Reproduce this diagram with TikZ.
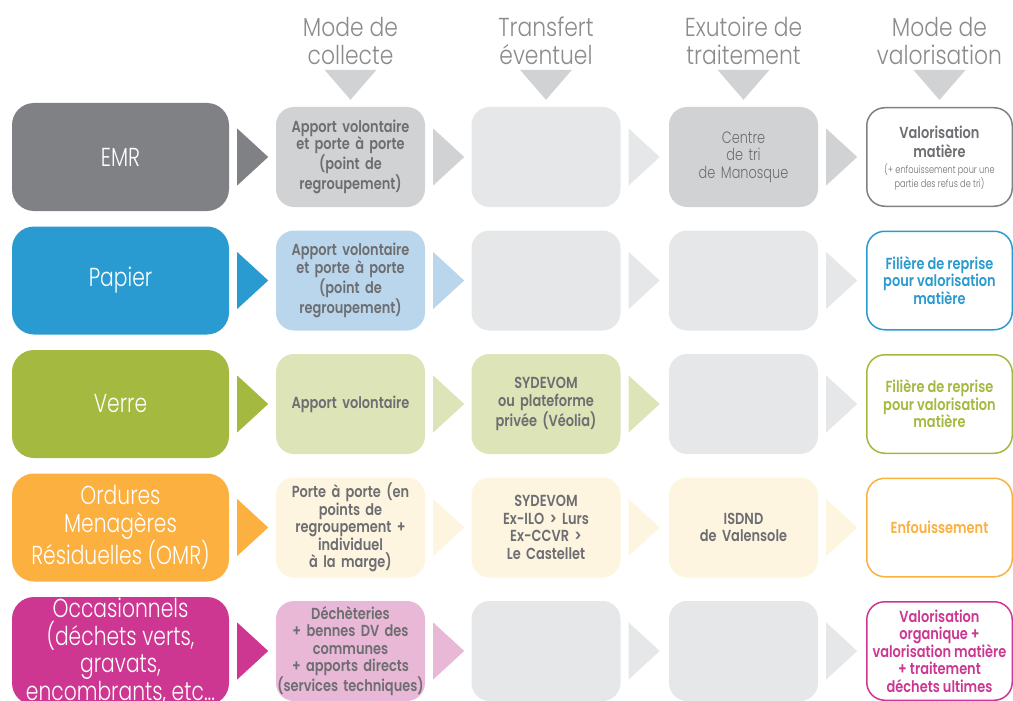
\documentclass[tikz,border=0pt]{standalone}
\usepackage{fontspec}
\setmainfont{Poppins}[FakeStretch=0.81,BoldFont={* SemiBold}]
\newfontfamily\lightfont{Poppins Light}[FakeStretch=0.78]
\newfontfamily\titlefont{Poppins Light}[FakeStretch=0.84]
\usetikzlibrary{calc}

\definecolor{grisfonce}{HTML}{808184}
\definecolor{grismoyen}{HTML}{D1D2D4}
\definecolor{grisclair}{HTML}{E6E7E8}
\definecolor{textegris}{HTML}{6D6E71}
\definecolor{titregris}{HTML}{8A8B8D}
\definecolor{bleu}{HTML}{2A9BD0}
\definecolor{bleuclair}{HTML}{BAD6EC}
\definecolor{vert}{HTML}{A4B93F}
\definecolor{vertclair}{HTML}{DDE4B8}
\definecolor{orange}{HTML}{FBB040}
\definecolor{creme}{HTML}{FEF5E1}
\definecolor{magenta}{HTML}{CD3791}
\definecolor{rose}{HTML}{E9B8D7}

\tikzset{
  every node/.style={inner sep=0pt, align=center},
  flux/.style={fill=#1, rounded corners=22pt, minimum width=217pt,
    minimum height=108pt, text=white, font=\lightfont\fontsize{26}{27.5}\selectfont},
  etape/.style={fill=#1, rounded corners=18pt, minimum width=149pt,
    minimum height=100pt, text width=149pt, text=textegris,
    font=\bfseries\fontsize{16}{17.5}\selectfont},
  valo/.style={draw=#1, fill=white, line width=1.5pt, rounded corners=18pt,
    minimum width=145.5pt, minimum height=98.5pt, text=#1,
    font=\bfseries\fontsize{16}{17.5}\selectfont},
  titre/.style={text=titregris, font=\titlefont\fontsize{26}{28}\selectfont},
  note/.style={text=textegris, font=\lightfont\fontsize{10.5}{12.5}\selectfont},
}
% triangle to the right of a box
\newcommand{\fleche}[2]{\fill[#2] ($(#1.east)+(8,-28.5)$) -- ++(31,28.5) -- ++(-31,28.5) -- cycle;}
% triangle under a column title
\newcommand{\pointe}[1]{\fill[grismoyen] ($(#1.north)+(-26,-37)$) -- ++(52,0) -- ++(-26,30) -- cycle;}

\begin{document}
\begin{tikzpicture}[x=1pt,y=-1pt]
\useasboundingbox (0,0) rectangle (1013,701);
\clip (0,0) rectangle (1013,701);

% column titles
\node[titre] (h-c) at (350.5,41) {Mode de\\collecte};
\node[titre] (h-t) at (546,41) {Transfert\\éventuel};
\node[titre] (h-x) at (743.5,41) {Exutoire de\\traitement};
\node[titre] (h-v) at (939.5,41) {Mode de\\valorisation};

% EMR
\node[flux=grisfonce] (emr) at (120.5,157) {EMR};
\node[etape=grismoyen] (emr-c) at (350.5,157) {Apport volontaire\\et porte à porte\\(point de\\regroupement)};
\node[etape=grisclair] (emr-t) at (546,157) {};
\node[etape=grismoyen, font=\lightfont\fontsize{16.5}{17.5}\selectfont] (emr-x) at (743.5,157) {Centre\\de tri\\de Manosque};
\node[valo=grisfonce] (emr-v) at (939.5,157) {};
\node[text=textegris, font=\bfseries\fontsize{16}{19}\selectfont] (emr-vt) at (939.5,142) {Valorisation\\matière};
\node[note] (emr-vn) at (939.5,177) {(+ enfouissement pour une\\partie des refus de tri)};
\fleche{emr}{grisfonce}
\fleche{emr-c}{grismoyen}
\fleche{emr-t}{grisclair}
\fleche{emr-x}{grismoyen}

% Papier
\node[flux=bleu] (pap) at (120.5,280.5) {Papier};
\node[etape=bleuclair] (pap-c) at (350.5,280.5) {Apport volontaire\\et porte à porte\\(point de\\regroupement)};
\node[etape=grisclair] (pap-t) at (546,280.5) {};
\node[etape=grisclair] (pap-x) at (743.5,280.5) {};
\node[valo=bleu] (pap-v) at (939.5,280.5) {Filière de reprise\\pour valorisation\\matière};
\fleche{pap}{bleu}
\fleche{pap-c}{bleuclair}
\fleche{pap-t}{grisclair}
\fleche{pap-x}{grisclair}

% Verre
\node[flux=vert] (ver) at (120.5,404) {Verre};
\node[etape=vertclair] (ver-c) at (350.5,404) {Apport volontaire};
\node[etape=vertclair] (ver-t) at (546,404) {SYDEVOM\\ou plateforme\\privée (Véolia)};
\node[etape=grisclair] (ver-x) at (743.5,404) {};
\node[valo=vert] (ver-v) at (939.5,404) {Filière de reprise\\pour valorisation\\matière};
\fleche{ver}{vert}
\fleche{ver-c}{vertclair}
\fleche{ver-t}{vertclair}
\fleche{ver-x}{grisclair}

% OMR
\node[flux=orange] (omr) at (120.5,527.5) {Ordures\\Menagères\\Résiduelles (OMR)};
\node[etape=creme] (omr-c) at (350.5,527.5) {Porte à porte (en\\points de\\regroupement +\\individuel\\à la marge)};
\node[etape=creme] (omr-t) at (546,527.5) {SYDEVOM\\Ex-ILO > Lurs\\Ex-CCVR >\\Le Castellet};
\node[etape=creme] (omr-x) at (743.5,527.5) {ISDND\\de Valensole};
\node[valo=orange] (omr-v) at (939.5,527.5) {Enfouissement};
\fleche{omr}{orange}
\fleche{omr-c}{creme}
\fleche{omr-t}{creme}
\fleche{omr-x}{creme}

% Occasionnels
\node[flux=magenta] (occ) at (120.5,651) {Occasionnels\\(déchets verts,\\gravats,\\encombrants, etc...};
\node[etape=rose] (occ-c) at (350.5,651) {Déchèteries\\+ bennes DV des\\communes\\+ apports directs\\(services techniques)};
\node[etape=grisclair] (occ-t) at (546,651) {};
\node[etape=grisclair] (occ-x) at (743.5,651) {};
\node[valo=magenta] (occ-v) at (939.5,651) {Valorisation\\organique +\\valorisation matière\\+ traitement\\déchets ultimes};
\fleche{occ}{magenta}
\fleche{occ-c}{rose}
\fleche{occ-t}{grisclair}
\fleche{occ-x}{grisclair}

% arrows under the titles
\pointe{emr-c}
\pointe{emr-t}
\pointe{emr-x}
\pointe{emr-v}
\end{tikzpicture}
\end{document}
